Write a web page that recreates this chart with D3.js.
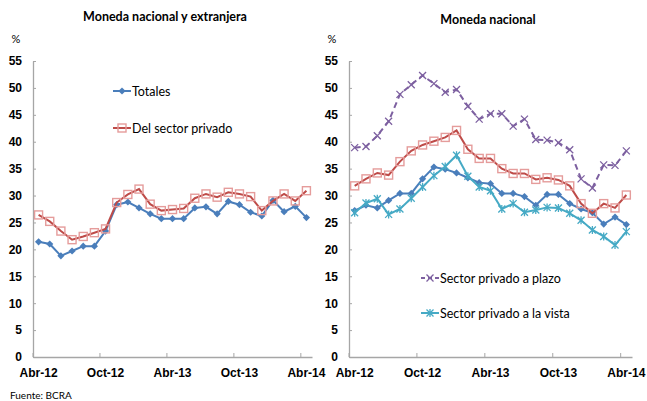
<!DOCTYPE html>
<html>
<head>
<meta charset="utf-8">
<script src="https://cdn.jsdelivr.net/npm/d3@7"></script>
<style>
  body { margin: 0; background: #fff; }
  svg { font-family: Lato, "DejaVu Sans", sans-serif; }
  .tick text { font-weight: bold; font-size: 12px; fill: #000; }
</style>
</head>
<body>
<div id="chart"></div>
<script>
// months Abr-12 .. Abr-14
const months = ["Abr-12","May-12","Jun-12","Jul-12","Ago-12","Sep-12","Oct-12","Nov-12","Dic-12",
  "Ene-13","Feb-13","Mar-13","Abr-13","May-13","Jun-13","Jul-13","Ago-13","Sep-13","Oct-13",
  "Nov-13","Dic-13","Ene-14","Feb-14","Mar-14","Abr-14"];
const xTickLabels = ["Abr-12","Oct-12","Abr-13","Oct-13","Abr-14"];
const yTicks = [0,5,10,15,20,25,30,35,40,45,50,55];

// left panel: moneda nacional y extranjera
const totales = [21.4,21.0,18.8,19.7,20.6,20.6,23.4,28.3,28.8,27.7,26.6,25.7,25.7,
  25.7,27.7,27.9,26.6,28.9,28.3,26.9,26.2,29.1,27.0,28.0,25.9];
const privado = [26.4,25.2,23.4,21.8,22.4,23.1,23.8,28.7,30.2,31.2,28.4,27.2,27.4,
  27.6,29.5,30.3,29.7,30.6,30.3,29.8,27.2,29.0,30.3,29.0,30.9];

// right panel: moneda nacional
const totalesMN = [27.2,28.2,27.7,29.1,30.4,30.4,33.1,35.3,34.9,34.2,33.3,32.4,32.2,
  30.4,30.4,29.8,28.2,30.2,30.2,28.5,27.5,26.8,24.7,26.0,24.6];
const privadoMN = [31.8,33.1,34.2,33.8,36.3,38.3,39.4,40.1,40.8,42.1,38.6,36.9,36.9,
  35.0,34.1,34.1,33.0,33.3,32.9,31.8,28.5,26.7,28.5,27.7,30.1];
const plazo = [38.9,39.1,41.1,43.8,48.8,50.6,52.3,50.8,49.2,49.7,46.6,44.2,45.2,
  45.2,42.9,44.2,40.4,40.3,39.8,38.5,33.1,31.4,35.7,35.6,38.3];
const vista = [26.8,28.6,29.4,26.5,27.5,29.5,31.6,33.7,35.4,37.5,33.6,31.6,30.9,
  27.5,28.5,26.9,27.3,27.8,27.7,26.7,25.4,23.6,22.4,20.8,23.3];

const blue = "#4a7ebb", red = "#be4b48", purple = "#7d60a0", cyan = "#46aac5";

const svg = d3.select("#chart").append("svg")
  .attr("width", 647).attr("height", 401);

function marker(g, type, color) {
  if (type === "diamond") {
    g.append("path").attr("d", "M0,-3.6L3.6,0L0,3.6L-3.6,0Z").attr("fill", color);
  } else if (type === "square") {
    g.append("rect").attr("x", -4).attr("y", -4).attr("width", 8).attr("height", 8)
      .attr("fill", "none").attr("stroke", "#e59c9b").attr("stroke-width", 1.4);
  } else if (type === "x") {
    g.append("path").attr("d", "M-3.5,-3.5L3.5,3.5M-3.5,3.5L3.5,-3.5")
      .attr("stroke", color).attr("stroke-width", 1.3);
  } else if (type === "star") {
    g.append("path").attr("d", "M-3.5,-3.5L3.5,3.5M-3.5,3.5L3.5,-3.5M0,-4L0,4")
      .attr("stroke", color).attr("stroke-width", 1.3);
  }
}

function panel(opt) {
  const g = svg.append("g");
  const x = d3.scaleBand().domain(months).range([opt.x0, opt.x1]).padding(0);
  const y = d3.scaleLinear().domain([0, 55]).range([357, 61]);
  const cx = d => x(d) + x.bandwidth() / 2;

  // y axis, ticks inside
  const ya = g.append("g").attr("transform", `translate(${opt.x0},0)`)
    .call(d3.axisLeft(y).tickValues(yTicks).tickSizeInner(-3).tickSizeOuter(0).tickPadding(11));
  ya.select(".domain").attr("stroke", "#a6a6a6").attr("stroke-width", 1.3);
  ya.selectAll(".tick line").attr("stroke", "#a6a6a6");

  // x axis: labels at categories, ticks at boundaries
  const xa = g.append("g").attr("transform", "translate(0,357)")
    .call(d3.axisBottom(x).tickValues(xTickLabels).tickSize(0).tickPadding(11));
  xa.select(".domain").attr("stroke", "#a6a6a6").attr("stroke-width", 1.3);
  xa.selectAll(".tick line").remove();
  g.selectAll(".xt").data(xTickLabels).enter().append("line")
    .attr("x1", d => x(d)).attr("x2", d => x(d))
    .attr("y1", 357).attr("y2", 353).attr("stroke", "#a6a6a6");

  g.append("text").attr("x", opt.x0 - 17).attr("y", 43).attr("text-anchor", "middle")
    .attr("font-size", 11).text("%");
  g.append("text").attr("x", opt.titleX).attr("y", opt.titleY).attr("text-anchor", "middle")
    .attr("font-size", 12.5).attr("font-weight", "bold").text(opt.title);

  const line = d3.line().x((d, i) => cx(months[i])).y(d => y(d));
  opt.series.forEach(s => {
    g.append("path").datum(s.values).attr("d", line).attr("fill", "none")
      .attr("stroke", s.color).attr("stroke-width", 2)
      .attr("stroke-dasharray", s.dash || null);
    s.values.forEach((v, i) => {
      marker(g.append("g").attr("transform", `translate(${cx(months[i])},${y(v)})`), s.marker, s.color);
    });
    if (!s.name) return;
    // legend
    const lg = g.append("g").attr("transform", `translate(${s.lx},${s.ly})`);
    lg.append("line").attr("x1", 0).attr("x2", 18).attr("stroke", s.color).attr("stroke-width", 2)
      .attr("stroke-dasharray", s.dash ? "4,3" : null);
    marker(lg.append("g").attr("transform", "translate(9,0)"), s.marker, s.color);
    lg.append("text").attr("x", 19).attr("y", 4.5).attr("font-size", 12.5).text(s.name);
  });
}

panel({
  x0: 33, x1: 312, title: "Moneda nacional y extranjera", titleX: 165, titleY: 21,
  series: [
    { name: "Totales", values: totales, color: blue, marker: "diamond", lx: 113, ly: 91 },
    { name: "Del sector privado", values: privado, color: red, marker: "square", lx: 113, ly: 128 }
  ]
});

panel({
  x0: 349, x1: 632, title: "Moneda nacional", titleX: 488, titleY: 24,
  series: [
    { name: "", values: totalesMN, color: blue, marker: "diamond" },
    { name: "", values: privadoMN, color: red, marker: "square" },
    { name: "Sector privado a plazo", values: plazo, color: purple, marker: "x", dash: "6,4", lx: 421, ly: 278 },
    { name: "Sector privado a la vista", values: vista, color: cyan, marker: "star", lx: 421, ly: 313 }
  ]
});

svg.append("text").attr("x", 10).attr("y", 399).attr("font-size", 10).text("Fuente: BCRA");
</script>
</body>
</html>
